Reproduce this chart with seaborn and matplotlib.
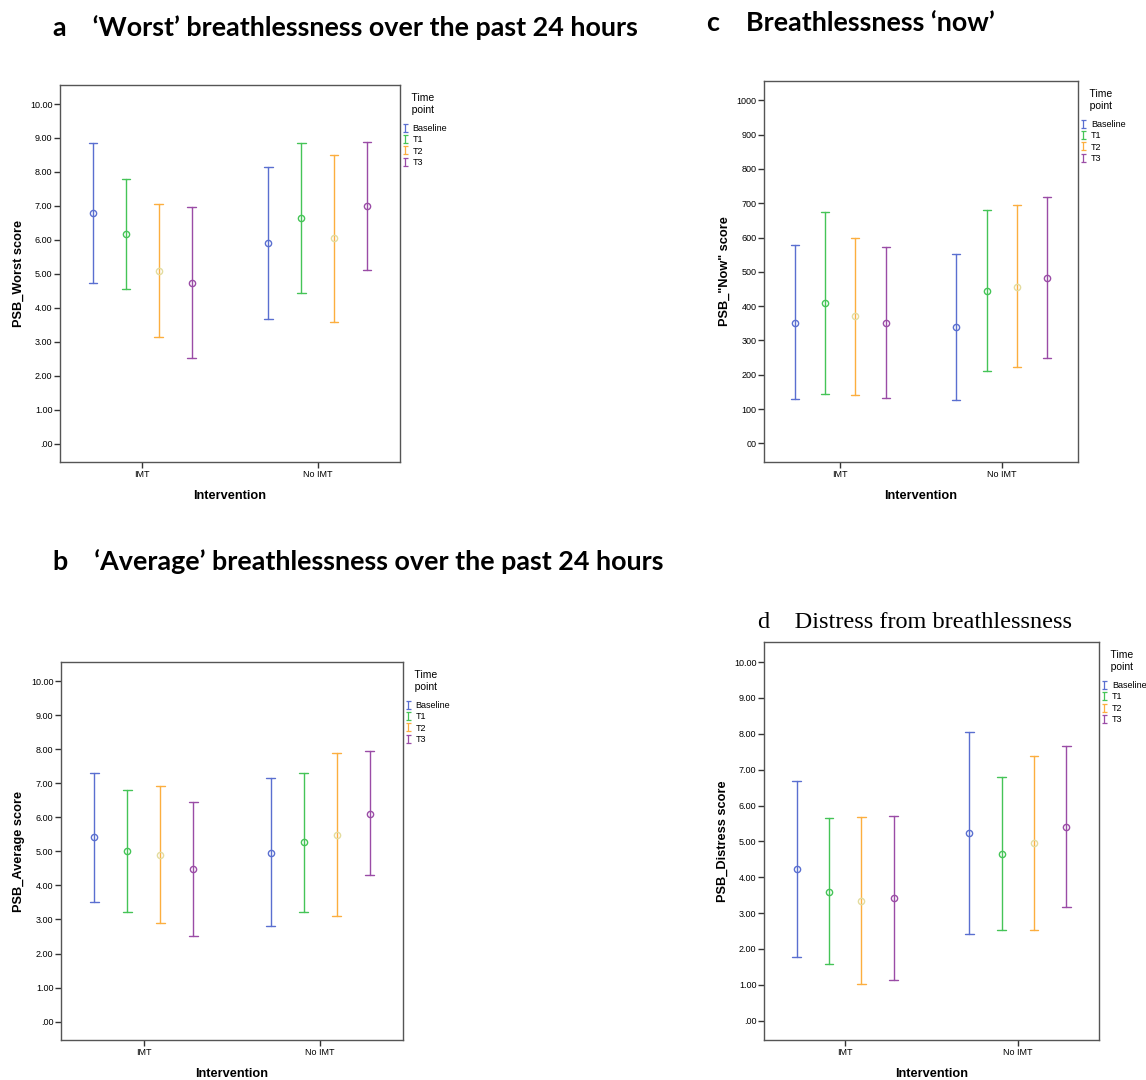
import matplotlib
matplotlib.use("Agg")
import matplotlib.pyplot as plt
import seaborn as sns
import pandas as pd
from matplotlib.path import Path
from matplotlib.lines import Line2D

# ---------------- data ----------------
groups = ["IMT", "No IMT"]
timepoints = ["Baseline", "T1", "T2", "T3"]

# order: IMT (Baseline, T1, T2, T3), No IMT (Baseline, T1, T2, T3)
worst_mean = [6.78, 6.18, 5.09, 4.74, 5.90, 6.64, 6.05, 6.99]
worst_low = [4.73, 4.56, 3.14, 2.51, 3.68, 4.45, 3.59, 5.11]
worst_high = [8.85, 7.78, 7.06, 6.97, 8.15, 8.85, 8.51, 8.87]

now_mean = [3.51, 4.09, 3.70, 3.51, 3.39, 4.45, 4.57, 4.83]
now_low = [1.29, 1.44, 1.40, 1.33, 1.26, 2.11, 2.22, 2.50]
now_high = [5.78, 6.75, 5.99, 5.73, 5.51, 6.81, 6.94, 7.17]

avg_mean = [5.41, 5.00, 4.90, 4.48, 4.96, 5.27, 5.48, 6.11]
avg_low = [3.50, 3.21, 2.91, 2.52, 2.82, 3.22, 3.10, 4.31]
avg_high = [7.29, 6.81, 6.91, 6.44, 7.14, 7.30, 7.88, 7.94]

dist_mean = [4.23, 3.59, 3.35, 3.43, 5.23, 4.65, 4.95, 5.39]
dist_low = [1.78, 1.57, 1.03, 1.14, 2.41, 2.53, 2.54, 3.16]
dist_high = [6.68, 5.64, 5.67, 5.71, 8.05, 6.80, 7.37, 7.65]

yticks = list(range(0, 11))
std_ticklabels = [".00", "1.00", "2.00", "3.00", "4.00", "5.00",
                  "6.00", "7.00", "8.00", "9.00", "10.00"]
now_ticklabels = ["00", "100", "200", "300", "400", "500",
                  "600", "700", "800", "900", "1000"]

# ---------------- style ----------------
bar_colors = ["#5a6fd0", "#45c457", "#fcae3f", "#9a4ca6"]
marker_colors = ["#5a6fd0", "#45c457", "#e3dc9e", "#9a4ca6"]

sns.set_style("ticks")
plt.rcParams["font.family"] = ["Liberation Sans", "DejaVu Sans"]
plt.rcParams["text.color"] = "black"
plt.rcParams["axes.labelcolor"] = "black"
plt.rcParams["xtick.color"] = "black"
plt.rcParams["ytick.color"] = "black"

fig = plt.figure(figsize=(11.46, 10.80), dpi=100)


def rows(mean, low, high):
    err, pts = [], []
    for i in range(len(mean)):
        g = groups[i // 4]
        t = timepoints[i % 4]
        err.append((g, t, low[i]))
        err.append((g, t, high[i]))
        pts.append((g, t, mean[i]))
    cols = ["Intervention", "Time point", "score"]
    return pd.DataFrame(err, columns=cols), pd.DataFrame(pts, columns=cols)


cap_path = Path(
    [(0, -1), (0, 1), (-0.6, 1), (0.6, 1), (-0.6, -1), (0.6, -1)],
    [Path.MOVETO, Path.LINETO, Path.MOVETO, Path.LINETO, Path.MOVETO, Path.LINETO],
)


def panel(rect, mean, low, high, ylabel, ticklabels):
    ax = fig.add_axes(rect)
    err_df, pt_df = rows(mean, low, high)
    sns.pointplot(data=err_df, x="Intervention", y="score", hue="Time point",
                  order=groups, hue_order=timepoints, estimator="mean",
                  errorbar=("pi", 100), dodge=0.5625, capsize=0.05,
                  palette=bar_colors, marker="", linestyle="none",
                  err_kws={"linewidth": 1.0}, legend=False, ax=ax)
    sns.pointplot(data=pt_df, x="Intervention", y="score", hue="Time point",
                  order=groups, hue_order=timepoints, errorbar=None,
                  dodge=0.5625, palette=marker_colors, marker="o",
                  linestyle="none", markerfacecolor="none", markersize=4.5,
                  markeredgewidth=1.0, legend=False, ax=ax)
    ax.set_xlim(-0.47, 1.47)
    ax.set_ylim(-0.54, 10.56)
    ax.set_yticks(yticks)
    ax.set_yticklabels(ticklabels)
    ax.tick_params(axis="both", labelsize=6.5, length=4, width=1.0,
                   color="#333333", pad=1.5)
    for s in ax.spines.values():
        s.set_visible(True)
        s.set_color("#555555")
        s.set_linewidth(1.0)
    ax.set_xlabel("Intervention", fontsize=9.2, fontweight="bold", labelpad=8)
    ax.set_ylabel(ylabel, fontsize=9.2, fontweight="bold", labelpad=4)
    handles = [Line2D([], [], marker=cap_path, linestyle="none", color=c,
                      markersize=6, markeredgewidth=0.9, markerfacecolor="none")
               for c in bar_colors]
    leg = ax.legend(handles, timepoints, title="   Time\n   point",
                    loc="upper left", bbox_to_anchor=(0.995, 0.99), frameon=False,
                    fontsize=6.5, title_fontsize=7.5, handlelength=0.5,
                    handletextpad=0.6, labelspacing=0.26, borderaxespad=0.2,
                    borderpad=0.3)
    leg._legend_box.align = "left"
    leg._legend_box.sep = 6.5
    return ax


W, H = 1146.0, 1080.0


def rect(x0, x1, y0, y1):
    return [x0 / W, 1 - y1 / H, (x1 - x0) / W, (y1 - y0) / H]


panel(rect(60, 400, 85, 462), worst_mean, worst_low, worst_high,
      "PSB_Worst score", std_ticklabels)
panel(rect(764, 1078, 81, 462), now_mean, now_low, now_high,
      'PSB_"Now" score', now_ticklabels)
panel(rect(61, 403, 662, 1040), avg_mean, avg_low, avg_high,
      "PSB_Average score", std_ticklabels)
panel(rect(764, 1099, 642, 1040), dist_mean, dist_low, dist_high,
      "PSB_Distress score", std_ticklabels)

title_font = dict(family=["Lato", "DejaVu Sans"], fontweight="bold",
                  fontsize=19.4, va="baseline", ha="left")
fig.text(53 / W, 1 - 36 / H, "a    \u2018Worst\u2019 breathlessness over the past 24 hours",
         **title_font)
fig.text(707 / W, 1 - 31 / H, "c    Breathlessness \u2018now\u2019", **title_font)
fig.text(53 / W, 1 - 570 / H, "b    \u2018Average\u2019 breathlessness over the past 24 hours",
         **title_font)
fig.text(758 / W, 1 - 628 / H, "d    Distress from breathlessness",
         family=["Liberation Serif", "DejaVu Serif"], fontsize=17.5,
         va="baseline", ha="left")

fig.savefig("out.png", dpi=100)
